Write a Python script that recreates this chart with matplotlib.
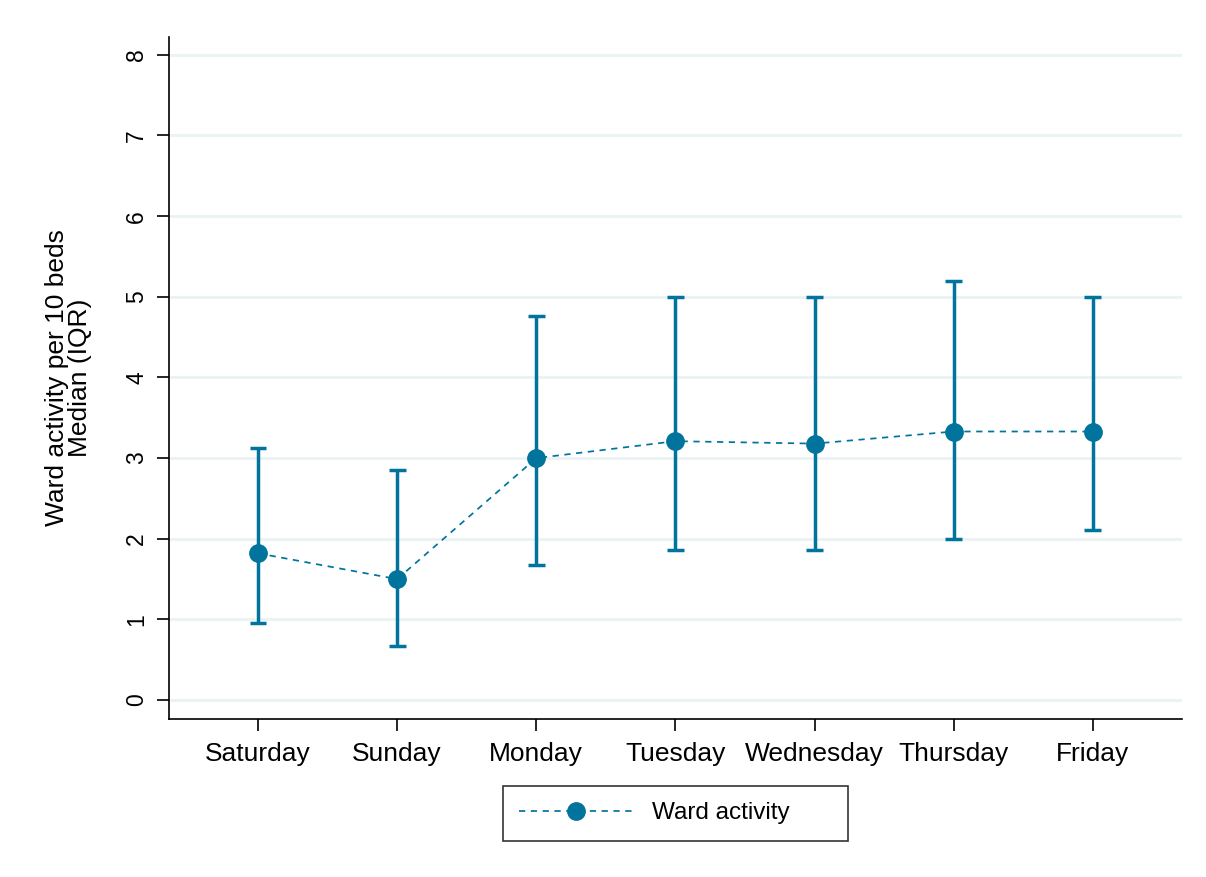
import matplotlib
matplotlib.use("Agg")
import matplotlib.pyplot as plt

plt.rcParams['font.family'] = ['Liberation Sans', 'DejaVu Sans']

days = ["Saturday", "Sunday", "Monday", "Tuesday", "Wednesday", "Thursday", "Friday"]
median = [1.82, 1.50, 3.00, 3.21, 3.18, 3.33, 3.33]
q1 = [0.95, 0.67, 1.67, 1.86, 1.86, 2.00, 2.11]
q3 = [3.12, 2.85, 4.76, 5.00, 5.00, 5.20, 5.00]
yticks = [0, 1, 2, 3, 4, 5, 6, 7, 8]

color = "#00749C"
x = list(range(1, len(days) + 1))

fig = plt.figure(figsize=(12.06, 8.77), dpi=100)
ax = fig.add_axes([0.1401, 0.180, 0.8399, 0.778])

# interquartile range bars with flat caps
for xi, lo, hi in zip(x, q1, q3):
    ax.plot([xi, xi], [lo, hi], color=color, lw=2.5, solid_capstyle='butt', zorder=3)
    ax.plot([xi - 0.061, xi + 0.061], [lo, lo], color=color, lw=2.5, solid_capstyle='butt', zorder=3)
    ax.plot([xi - 0.061, xi + 0.061], [hi, hi], color=color, lw=2.5, solid_capstyle='butt', zorder=3)

# medians joined by a dashed line
ax.plot(x, median, color=color, lw=1.25, ls=(0, (3.6, 3.2)), marker='o', markersize=12.5,
        markerfacecolor=color, markeredgecolor=color, zorder=4, label="Ward activity")

ax.set_xlim(0.36, 7.64)
ax.set_ylim(-0.236, 8.223)
ax.set_yticks(yticks)
ax.set_yticklabels([str(t) for t in yticks], rotation=90, va='center')
ax.set_xticks(x)
ax.set_xticklabels(days)
ax.tick_params(axis='both', length=8.5, width=1.2, color='black')
ax.tick_params(axis='y', labelsize=16.5, pad=6.5)
ax.tick_params(axis='x', labelsize=19, pad=8)

ax.grid(axis='y', color='#EAF2F3', lw=2.0, zorder=0)
ax.set_axisbelow(True)
for s in ['top', 'right']:
    ax.spines[s].set_visible(False)
for s in ['left', 'bottom']:
    ax.spines[s].set_linewidth(1.2)

ax.set_ylabel("Ward activity per 10 beds\nMedian (IQR)", fontsize=19, linespacing=0.95)
ax.yaxis.set_label_coords(-0.076, 0.5)

leg = ax.legend(loc='center', bbox_to_anchor=(0.3297, -0.1378, 0.3406, 0.0), mode='expand',
                frameon=True, fancybox=False, edgecolor='black', fontsize=17.5,
                handlelength=4.65, borderpad=0.68, handletextpad=0.82, borderaxespad=0)
leg.get_frame().set_linewidth(1.2)

fig.savefig("out.png", dpi=100, facecolor='white')
